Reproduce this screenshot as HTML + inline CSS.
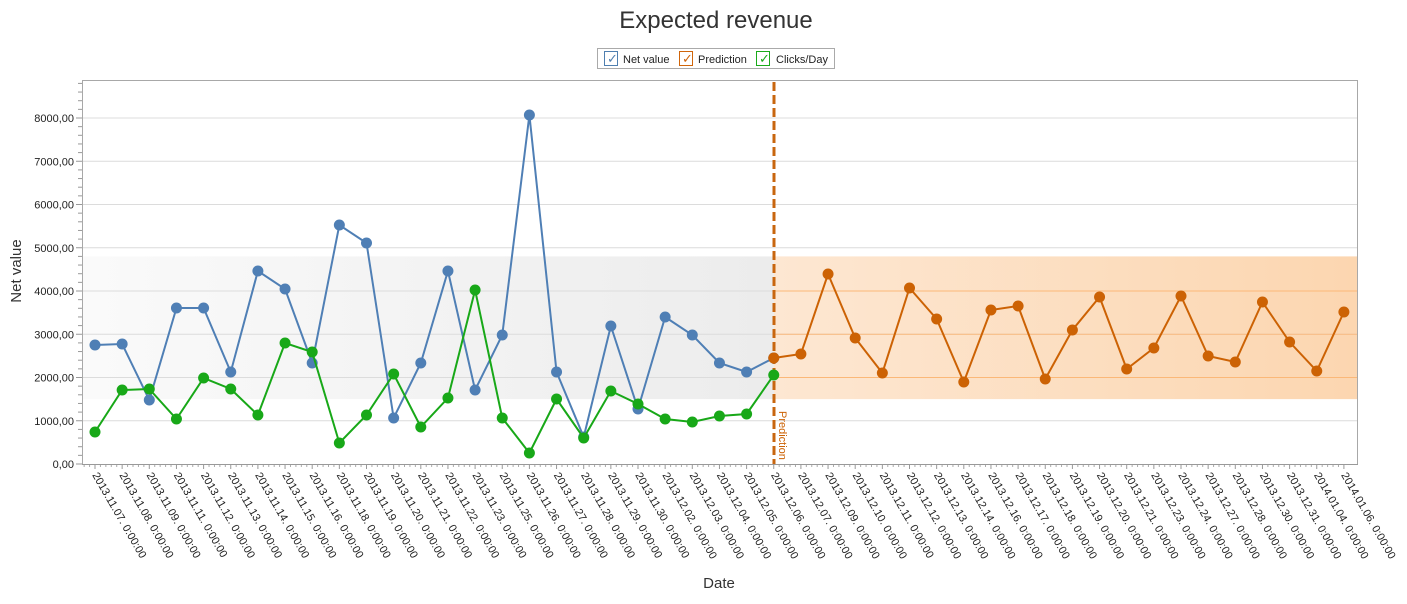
<!DOCTYPE html>
<html><head><meta charset="utf-8"><style>
body{margin:0;background:#fff;width:1407px;height:599px;overflow:hidden;font-family:"Liberation Sans",sans-serif}
</style></head><body>
<svg id="s" width="1407" height="599" xmlns="http://www.w3.org/2000/svg" font-family="Liberation Sans, sans-serif">
<defs>
<linearGradient id="gg" x1="0" x2="1" y1="0" y2="0"><stop offset="0" stop-color="#fafafa"/><stop offset="1" stop-color="#ececec"/></linearGradient>
<linearGradient id="og" x1="0" x2="1" y1="0" y2="0"><stop offset="0" stop-color="#fde7d2"/><stop offset="1" stop-color="#fcd6b0"/></linearGradient>
</defs>
<text x="716" y="28" font-size="24" text-anchor="middle" fill="#333">Expected revenue</text>
<rect x="597.5" y="48.5" width="237" height="20" fill="#fff" stroke="#aaa"/>
<rect x="604.5" y="51.5" width="13" height="14" fill="#fff" stroke="#4f7fb0"/><text x="607" y="63" font-size="13" fill="#4f7fb0">✓</text>
<text x="623" y="63" font-size="11" fill="#222">Net value</text>
<rect x="679.5" y="51.5" width="13" height="14" fill="#fff" stroke="#d0650a"/><text x="682" y="63" font-size="13" fill="#d0650a">✓</text>
<text x="698" y="63" font-size="11" fill="#222">Prediction</text>
<rect x="756.5" y="51.5" width="13" height="14" fill="#fff" stroke="#1aaa1a"/><text x="759" y="63" font-size="13" fill="#1aaa1a">✓</text>
<text x="776" y="63" font-size="11" fill="#222">Clicks/Day</text>
<g id="plot"></g>
<text x="719" y="588" font-size="15" text-anchor="middle" fill="#333">Date</text>
<text transform="translate(21,271) rotate(-90)" font-size="15" text-anchor="middle" fill="#333">Net value</text>
</svg>
<script>
const g=document.getElementById('plot');let h='';
const L=82,R=1358,T=80,B=464;const yv=v=>B-v*0.04325;
h+=`<rect x="${L}" y="${yv(4800)}" width="${774-L}" height="${yv(1500)-yv(4800)}" fill="url(#gg)"/>`;
h+=`<rect x="774" y="${yv(4800)}" width="${R-774}" height="${yv(1500)-yv(4800)}" fill="url(#og)"/>`;
for(let v=1000;v<=8000;v+=1000){h+=`<line x1="${L}" x2="${R}" y1="${yv(v)}" y2="${yv(v)}" stroke="#dcdcdc"/>`;}
for(const v of[2000,3000,4000])h+=`<line x1="774" x2="${R}" y1="${yv(v)}" y2="${yv(v)}" stroke="#fbb878"/>`;
h+=`<rect x="${L+.5}" y="${T+.5}" width="${R-L-1}" height="${B-T}" fill="none" stroke="#a8a8a8"/>`;
for(let v=0;v<=8800;v+=200){const y=yv(v);h+=`<line x1="${v%1000?78:76}" x2="${L}" y1="${y}" y2="${y}" stroke="#999"/>`;}
for(let v=0;v<=8000;v+=1000)h+=`<text x="74" y="${yv(v)+4}" font-size="11" text-anchor="end" fill="#222">${v},00</text>`;
const d=["2013.11.07","2013.11.08","2013.11.09","2013.11.11","2013.11.12","2013.11.13","2013.11.14","2013.11.15","2013.11.16","2013.11.18","2013.11.19","2013.11.20","2013.11.21","2013.11.22","2013.11.23","2013.11.25","2013.11.26","2013.11.27","2013.11.28","2013.11.29","2013.11.30","2013.12.02","2013.12.03","2013.12.04","2013.12.05","2013.12.06","2013.12.07","2013.12.09","2013.12.10","2013.12.11","2013.12.12","2013.12.13","2013.12.14","2013.12.16","2013.12.17","2013.12.18","2013.12.19","2013.12.20","2013.12.21","2013.12.23","2013.12.24","2013.12.27","2013.12.28","2013.12.30","2013.12.31","2014.01.04","2014.01.06"];
const xs=i=>95+i*27.15;
for(let i=0;i<47;i++){const x=xs(i);h+=`<line x1="${x}" x2="${x}" y1="${B}" y2="${B+5}" stroke="#999"/>`;
for(let k=1;k<5;k++){const xx=x-27.15*k/5;if(xx>L)h+=`<line x1="${xx}" x2="${xx}" y1="${B}" y2="${B+3}" stroke="#aaa"/>`;}
h+=`<text transform="translate(${x-3},${B+11}) rotate(60)" font-size="11" fill="#222">${d[i]}. 0:00:00</text>`;}
h+=`<line x1="${L}" x2="${R}" y1="${B+.5}" y2="${B+.5}" stroke="#999"/>`;
const blue=[345,344,400,308,308,372,271,289,363,225,243,418,363,271,390,335,115,372,437,326,409,317,335,363,372,358];
const green=[432,390,389,419,378,389,415,343,352,443,415,374,427,398,290,418,453,399,438,391,404,419,422,416,414,375];
const or=[358,354,274,338,373,288,319,382,310,306,379,330,297,369,348,296,356,362,302,342,371,312];
function ser(a,o,c){let p=a.map((y,i)=>`${xs(i+o)},${y}`).join(' ');let s=`<polyline points="${p}" fill="none" stroke="${c}" stroke-width="2"/>`;a.forEach((y,i)=>s+=`<circle cx="${xs(i+o)}" cy="${y}" r="5.5" fill="${c}"/>`);return s;}
h+=`<line x1="774" x2="774" y1="82" y2="464" stroke="#c8660f" stroke-width="3" stroke-dasharray="9,4"/>`;
h+=ser(blue,0,'#4f7fb5');h+=ser(or,25,'#cc6204');h+=ser(green,0,'#18a818');
h+=`<text transform="translate(779,411) rotate(90)" font-size="11" fill="#cc6204">Prediction</text>`;
g.innerHTML=h;
</script>
</body></html>
